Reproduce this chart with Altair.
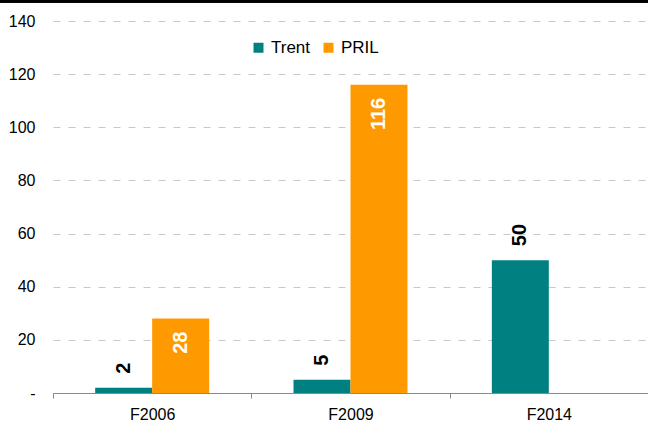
import altair as alt
import pandas as pd

categories = ["F2006", "F2009", "F2014"]
series = ["Trent", "PRIL"]
trent = [2, 5, 50]
pril = [28, 116, None]
y_ticks = [0, 20, 40, 60, 80, 100, 120, 140]
colors = ["#008080", "#FF9900"]

rows = []
for c, t, p in zip(categories, trent, pril):
    if t is not None:
        rows.append({"period": c, "series": "Trent", "value": t})
    if p is not None:
        rows.append({"period": c, "series": "PRIL", "value": p})
df = pd.DataFrame(rows)

FONT = "Liberation Sans"

x_enc = alt.X(
    "period:N",
    sort=categories,
    scale=alt.Scale(paddingInner=0, paddingOuter=0),
    axis=alt.Axis(
        title=None,
        labelAngle=0,
        labelFont=FONT,
        labelFontSize=16,
        labelColor="#000000",
        labelPadding=8,
        domainColor="#898989",
        tickColor="#898989",
        tickSize=5,
        tickBand="extent",
        grid=False,
    ),
)
xoff = alt.XOffset("series:N", sort=series, scale=alt.Scale(paddingInner=0, paddingOuter=0.74))
y_enc = alt.Y(
    "value:Q",
    scale=alt.Scale(domain=[0, 140], nice=False),
    axis=alt.Axis(
        title=None,
        values=y_ticks,
        labelFont=FONT,
        labelFontSize=16,
        labelColor="#000000",
        labelPadding=18,
        labelExpr="datum.value == 0 ? '-\u00a0\u00a0\u00a0\u00a0' : datum.label",
        domain=False,
        ticks=False,
        grid=True,
        gridColor="#c8c8c8",
        gridDash=[7, 8],
        gridWidth=1,
    ),
)

base = alt.Chart(df)

bars = base.mark_bar().encode(
    x=x_enc,
    xOffset=xoff,
    y=y_enc,
    color=alt.Color(
        "series:N",
        sort=series,
        scale=alt.Scale(domain=series, range=colors),
        legend=alt.Legend(
            title=None,
            orient="none",
            direction="horizontal",
            legendX=197,
            legendY=18,
            symbolType="square",
            symbolSize=100,
            symbolStrokeWidth=0,
            symbolOpacity=1,
            labelFont=FONT,
            labelFontSize=17,
            labelColor="#000000",
            labelOffset=4,
            columnPadding=9,
            padding=0,
        ),
    ),
)

outside = base.transform_filter(alt.datum.series == "Trent").mark_text(
    angle=270, align="left", baseline="middle", dx=14,
    font=FONT, fontSize=20, fontWeight="bold", color="#000000",
).encode(
    x=alt.X("period:N", sort=categories),
    xOffset=xoff,
    y=alt.Y("value:Q"),
    text=alt.Text("value:Q"),
)

inside = base.transform_filter(alt.datum.series == "PRIL").mark_text(
    angle=270, align="right", baseline="middle", dx=-13,
    font=FONT, fontSize=20, fontWeight="bold", color="#FFFFFF",
).encode(
    x=alt.X("period:N", sort=categories),
    xOffset=xoff,
    y=alt.Y("value:Q"),
    text=alt.Text("value:Q"),
)

top_rule = base.mark_rule(color="#000000", strokeWidth=3).encode(
    x=alt.value(-60), x2=alt.value(700), y=alt.value(-20)
)

chart = (
    alt.layer(bars, outside, inside, top_rule)
    .properties(
        width=595,
        height=372,
        padding={"left": 53, "top": 21, "right": 0, "bottom": 28},
        autosize=alt.AutoSizeParams(type="none"),
        background="#FFFFFF",
    )
    .configure_view(stroke=None)
)

chart.save("out.html", embed_options={"renderer": "svg", "actions": False})
